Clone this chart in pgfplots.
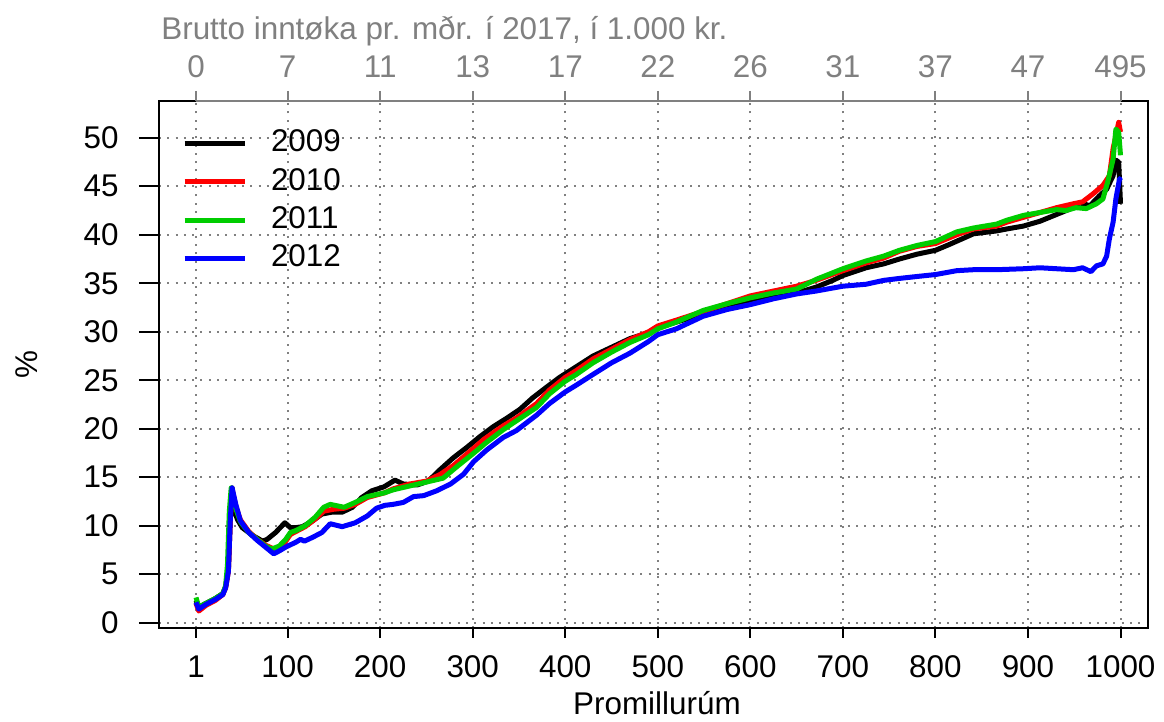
\documentclass[border=0pt]{standalone}
\usepackage{fontspec}
\setmainfont{Liberation Sans}
\usepackage{pgfplots}
\pgfplotsset{compat=1.18}

\definecolor{rgreen}{RGB}{0,205,0}
\definecolor{rgrey}{RGB}{128,128,128}

\pgfplotsset{
  frame/.style={
    at={(0,0)}, anchor=south west,
    scale only axis, width=494.5pt, height=263.5pt,
    xmin=-39, xmax=1029.7, ymin=-0.55, ymax=53.8,
    /pgf/number format/assume math mode=true,
  },
}

\begin{document}
\fontsize{15.7pt}{18pt}\selectfont
\begin{tikzpicture}
\useasboundingbox (-79.5pt,-47pt) rectangle (502.5pt,314pt);

% main panel: data, grid, y ticks
\begin{axis}[
  frame,
  axis line style={line width=1pt},
  xtick={1,100,200,300,400,500,600,700,800,900,1000},
  xticklabels={1,100,200,300,400,500,600,700,800,900,1000},
  ytick={0,5,...,50},
  xtick style={draw=none},
  ytick style={line width=1pt, black},
  tick align=outside, major tick length=10pt,
  xtick pos=bottom, ytick pos=left,
  xticklabel style={anchor=base, inner sep=0pt, yshift=-15pt},
  yticklabel style={anchor=east, inner sep=0pt, xshift=-10pt},
  grid=major,
  major grid style={rgrey, line width=1pt, dash pattern=on 1pt off 3.15pt},
  xlabel={Promillurúm}, ylabel={\%},
  every axis x label/.style={at={(axis description cs:0.5035,0)}, anchor=base, yshift=-43.5pt},
  every axis y label/.style={at={(axis description cs:-0.1335,0.499)}, rotate=90, anchor=center},
  legend style={draw=none, fill=none, at={(axis description cs:0.0233,0.9605)},
    anchor=north west, inner sep=0pt, outer sep=0pt, row sep=0pt, column sep=12pt,
    nodes={inner sep=0pt, text height=14.97pt, text depth=4.23pt}},
  legend cell align=left,
  legend image code/.code={\draw[#1] (0pt,-1.1pt) -- (30pt,-1.1pt);},
  every axis plot/.append style={line width=2.5pt, line join=round},
]
% 2009
\addplot[black] coordinates {
(1,2.3) (4,1.6) (12,2.0) (22,2.5) (30,3.0) (33,3.7) (36,5.5) (38,10.5) (40,13.9)
(42,11.6) (46,10.6) (51,9.8) (62,9.0) (73,8.4) (78,8.6) (87,9.3) (97,10.3) (103,9.8)
(109,9.8) (116,9.9) (127,10.5) (137,11.2) (148,11.4) (159,11.4) (170,11.9) (180,12.9)
(191,13.6) (204,14.0) (216,14.7) (225,14.3) (240,14.2) (252,14.6) (265,15.8) (279,17.0)
(294,18.1) (308,19.2) (322,20.2) (337,21.1) (351,22.0) (365,23.2) (380,24.3) (394,25.3)
(412,26.4) (430,27.5) (450,28.4) (470,29.3) (490,29.9) (500,30.4) (520,31.0) (549,31.8)
(575,32.6) (600,33.2) (625,33.7) (650,34.0) (671,34.6) (689,35.3) (700,35.8) (725,36.6)
(744,37.0) (761,37.5) (780,38.0) (800,38.4) (815,39.0) (841,40.1) (866,40.4) (877,40.6)
(895,40.9) (913,41.4) (931,42.1) (949,42.8) (956,43.3) (967,43.0) (977,44.0) (985,44.7)
(992,46.1) (995,47.7) (998,47.5) (999,45.4) (1000,43.2)
};
\addlegendentry{2009}
% 2010
\addplot[red] coordinates {
(1,2.0) (4,1.2) (12,1.8) (22,2.3) (30,2.9) (33,3.6) (36,5.3) (38,10.5) (40,13.8)
(44,12.0) (49,10.6) (58,9.4) (67,8.6) (76,8.0) (85,7.6) (91,7.7) (98,8.4) (103,9.1)
(109,9.4) (119,9.9) (130,10.7) (139,11.5) (150,11.7) (161,11.8) (173,12.2) (186,12.9)
(205,13.4) (214,13.8) (232,14.3) (250,14.6) (265,15.3) (279,16.2) (300,17.9) (312,18.9)
(333,20.3) (347,21.1) (369,22.6) (383,24.0) (400,25.3) (412,26.0) (430,27.2) (450,28.2)
(470,29.2) (490,30.0) (500,30.6) (520,31.2) (549,32.1) (575,32.9) (600,33.7) (625,34.2)
(650,34.7) (671,35.3) (700,36.3) (725,37.1) (744,37.6) (761,38.3) (780,38.8) (800,39.1)
(823,40.0) (841,40.6) (866,40.9) (877,41.3) (895,41.8) (913,42.3) (931,42.8) (949,43.2)
(959,43.4) (970,44.2) (981,45.1) (988,46.1) (992,48.9) (995,50.2) (998,51.6) (1000,50.6)
};
\addlegendentry{2010}
% 2011
\addplot[rgreen] coordinates {
(1,2.6) (4,1.6) (12,2.0) (22,2.5) (30,3.0) (33,3.8) (35,6.0) (37,11.5) (39,13.9)
(42,12.3) (49,10.4) (58,9.3) (67,8.6) (76,7.9) (83,7.6) (91,7.9) (98,8.6) (103,9.3)
(109,9.5) (119,10.0) (130,10.9) (139,11.9) (146,12.2) (151,12.1) (161,11.9) (173,12.4)
(186,13.0) (205,13.4) (214,13.7) (232,14.1) (250,14.5) (268,14.9) (283,16.1) (300,17.4)
(315,18.6) (333,19.9) (347,20.8) (369,22.2) (383,23.6) (400,24.9) (412,25.6) (430,26.8)
(450,27.9) (470,28.9) (490,29.7) (500,30.3) (520,31.0) (549,32.2) (575,32.9) (600,33.5)
(625,34.0) (650,34.4) (671,35.4) (700,36.5) (725,37.3) (744,37.8) (761,38.4) (780,38.9)
(800,39.3) (823,40.3) (841,40.7) (866,41.1) (877,41.5) (895,42.0) (913,42.3) (931,42.6)
(941,42.5) (952,42.8) (963,42.7) (974,43.2) (981,43.7) (986,45.4) (992,47.8) (995,50.9)
(998,50.6) (1000,48.2)
};
\addlegendentry{2011}
% 2012
\addplot[blue] coordinates {
(1,2.1) (4,1.4) (12,1.9) (22,2.4) (30,2.9) (33,3.6) (36,5.3) (38,10.5) (40,13.9)
(44,12.2) (49,10.5) (58,9.3) (67,8.5) (76,7.8) (85,7.1) (91,7.4) (98,7.8) (109,8.3)
(114,8.6) (118,8.4) (127,8.8) (137,9.3) (146,10.2) (159,9.9) (173,10.3) (186,11.0)
(196,11.8) (205,12.1) (214,12.2) (225,12.4) (236,13.0) (247,13.1) (261,13.6) (276,14.3)
(290,15.3) (301,16.6) (315,17.8) (333,19.1) (347,19.8) (369,21.4) (383,22.6) (400,23.8)
(412,24.5) (430,25.6) (450,26.8) (470,27.8) (490,29.0) (500,29.7) (520,30.3) (549,31.6)
(575,32.3) (600,32.8) (625,33.4) (650,33.9) (671,34.2) (700,34.7) (725,34.9) (744,35.3)
(761,35.5) (780,35.7) (800,35.9) (823,36.3) (841,36.4) (866,36.4) (895,36.5) (913,36.6)
(931,36.5) (949,36.4) (959,36.6) (968,36.2) (974,36.8) (981,37.0) (985,37.8) (988,39.6)
(992,41.3) (995,43.7) (999,45.8) (1000,45.6)
};
\addlegendentry{2012}
\end{axis}

% bottom x ticks (shorter than the y ticks)
\begin{axis}[
  frame,
  axis x line*=bottom, axis y line=none,
  x axis line style={draw=none},
  xtick={1,100,200,300,400,500,600,700,800,900,1000},
  xticklabels={},
  tick align=outside, major tick length=5pt,
  xtick style={black, line width=1pt},
]
\end{axis}

% top axis: income in 1.000 kr.
\begin{axis}[
  frame, clip=false,
  axis x line*=top, axis y line=none,
  x axis line style={draw=none},
  xtick={1,100,200,300,400,500,600,700,800,900,1000},
  xticklabels={0,7,11,13,17,22,26,31,37,47,495},
  tick align=outside, major tick length=5pt,
  xtick style={rgrey, line width=1pt},
  xticklabel style={text=rgrey, anchor=base, inner sep=0pt, yshift=6.6pt},
]
\draw[rgrey, line width=1pt] (axis cs:1,53.8) -- (axis cs:1000,53.8);
\node[anchor=base west, text=rgrey, inner sep=0pt] at (axis description cs:0.002,1)
  [yshift=30.5pt] {Brutto inntøka pr. mðr. í 2017, í 1.000 kr.};
\end{axis}
\end{tikzpicture}
\end{document}
